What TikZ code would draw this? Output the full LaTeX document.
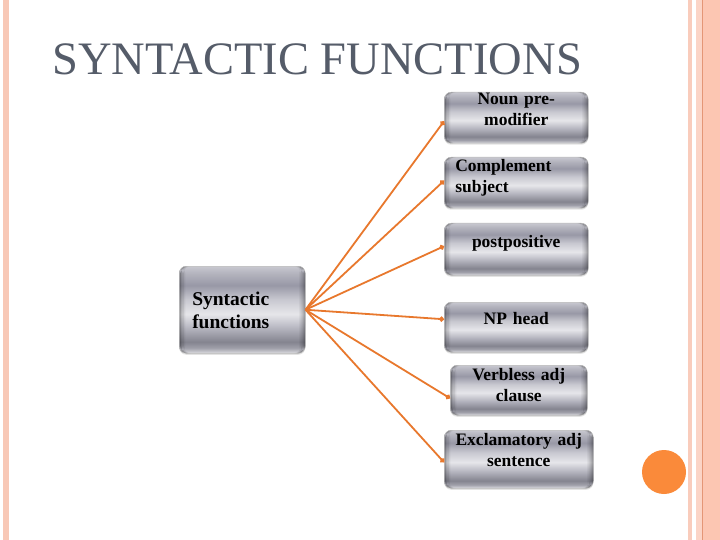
\documentclass[tikz,border=0pt]{standalone}
\usepackage{fontspec}
\setmainfont{Liberation Serif}
\usetikzlibrary{arrows.meta,calc,shadows}
\definecolor{titlecol}{RGB}{85,92,105}
\definecolor{conncol}{RGB}{232,120,45}
\definecolor{peach}{RGB}{248,200,182}
\definecolor{stripeA}{RGB}{249,204,188}
\definecolor{stripeB}{RGB}{251,212,198}
\definecolor{stripeD}{RGB}{228,150,118}
\definecolor{stripeC}{RGB}{252,198,178}
\definecolor{dotcol}{RGB}{250,138,58}
\definecolor{mA}{HTML}{DCDCE0}
\definecolor{mB}{HTML}{A0A0AA}
\definecolor{mC}{HTML}{84848F}
\definecolor{mD}{HTML}{B8B8C2}
\definecolor{mE}{HTML}{E6E6EA}
\definecolor{mF}{HTML}{C8C8D0}
\definecolor{mG}{HTML}{9898A6}
\definecolor{mH}{HTML}{B4B4BE}
\definecolor{mI}{HTML}{C8C8D0}
\pgfdeclareverticalshading{metal}{100bp}{color(0bp)=(mA); color(25bp)=(mA); color(28bp)=(mB); color(31.5bp)=(mC); color(40bp)=(mD); color(47.5bp)=(mE); color(56bp)=(mF); color(64bp)=(mG); color(71bp)=(mH); color(75bp)=(mI); color(100bp)=(mI)}
\tikzset{
  mbox/.style={rounded corners=7pt, shading=metal, shade, draw=gray!55, line width=0.5pt,
    drop shadow={opacity=0.22, shadow xshift=0pt, shadow yshift=-1.5pt},
    anchor=north west, inner ysep=0pt, inner xsep=0pt, text=black,
    font=\bfseries\fontsize{17.5}{21}\selectfont,
    path picture={
      \foreach \i/\o in {0/0.30,1.5/0.20,3/0.12,4.5/0.06}{
        \fill[black,opacity=\o] ([xshift=\i pt]path picture bounding box.south west)
          rectangle ([xshift=\i pt+1.5pt]path picture bounding box.north west);
        \fill[black,opacity=\o] ([xshift=-\i pt]path picture bounding box.south east)
          rectangle ([xshift=-\i pt-1.5pt]path picture bounding box.north east);
      }
    }},
  conn/.style={draw=conncol, line width=1.8pt, -{Circle[length=5pt]}},
  titletext/.style={anchor=base west, inner sep=0pt, text=titlecol, font=\fontsize{46.5}{50}\selectfont}
}
\begin{document}
\begin{tikzpicture}[x=1pt,y=-1pt]
\useasboundingbox (0,0) rectangle (720,540);
\fill[white] (0,0) rectangle (720,540);
% borders
\fill[peach] (3,0) rectangle (9,540);
\fill[stripeA] (688,0) rectangle (691.5,540);
\fill[stripeB] (696,0) rectangle (702,540);
\fill[stripeD] (702,0) rectangle (703,540);
\fill[stripeC] (703,0) rectangle (720,540);
\fill[dotcol] (664,472) circle (22pt);
% title
\node[titletext] (title) at (52,75) {SYNTACTIC FUNCTIONS};
% boxes
\node[mbox, text width=100pt, inner xsep=13pt, align=left,
  font=\bfseries\fontsize{19.5}{23}\selectfont, text height=39pt, text depth=48pt]
  (main) at (179,266) {Syntactic\\functions};
\node[mbox, text width=144pt, align=center, text height=12pt, text depth=39pt]
  (noun) at (444,92) {Noun pre-\\modifier};
\node[mbox, text width=122pt, inner xsep=11pt, align=left, text height=14pt, text depth=37pt]
  (compl) at (444,157) {Complement\\subject};
\node[mbox, text width=144pt, align=center, text height=24pt, text depth=28pt]
  (post) at (444,223) {postpositive};
\node[mbox, text width=144pt, align=center, text height=22pt, text depth=28pt]
  (nphead) at (444,302) {NP head};
\node[mbox, text width=137pt, align=center, text height=15pt, text depth=35pt]
  (verb) at (450,365) {Verbless adj\\clause};
\node[mbox, text width=149pt, align=center, text height=15pt, text depth=43pt]
  (excl) at (444,430) {Exclamatory adj\\sentence};
% connectors
\draw[conn] (main.east) -- ($(noun.west)+(0,3.5)$);
\draw[conn] (main.east) -- ($(compl.west)+(0,-2)$);
\draw[conn] (main.east) -- ($(post.west)+(0,-3)$);
\draw[conn] (main.east) -- ($(nphead.west)+(0,-8)$);
\draw[conn] (main.east) -- ($(verb.west)+(0,8)$);
\draw[conn] (main.east) -- ($(excl.west)+(0,3)$);
\end{tikzpicture}
\end{document}
